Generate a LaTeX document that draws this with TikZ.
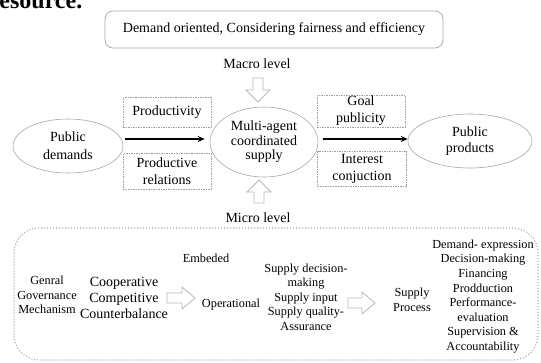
\documentclass[tikz,border=0pt]{standalone}
\usepackage{fontspec}
\setmainfont{Liberation Serif}
\usetikzlibrary{shapes.geometric,arrows.meta}

\begin{document}
\begin{tikzpicture}[x=1pt,y=-1pt,
  every node/.style={font=\fontsize{14}{16}\selectfont, inner sep=0pt},
  label/.style={align=center},
  oval/.style={label, ellipse, draw=gray!70, line width=0.6pt},
  dbox/.style={label, draw=gray!75, dash pattern=on 1.5pt off 1pt, line width=0.6pt},
  lowtext/.style={label, font=\fontsize{12.3}{14.6}\selectfont},
  flow/.style={-{Stealth[length=7pt,width=6pt]}, line width=1.1pt},
  hollow/.style={draw=gray!55, fill=white, line width=0.8pt, line join=miter},
]
\useasboundingbox (0,0) rectangle (541,362);

% tail of the preceding line of text
\begin{scope}
  \clip (0,0) rectangle (541,362);
  \node[anchor=base west, font=\fontsize{24}{24}\selectfont\bfseries] (lead) at (-11,8) {resource.};
\end{scope}

% guiding principle
\node[label, draw=gray!70, rounded corners=8pt, minimum width=338pt, minimum height=37pt,
      line width=0.7pt] (principle) at (274,29.5)
  {Demand oriented, Considering fairness and efficiency};

% macro level input
\node (macro) at (257,64) {Macro level};
\draw[hollow] (253,78) -- (263,78) -- (263,90) -- (270,90) -- (258,102)
  -- (246,90) -- (253,90) -- cycle;

% main chain
\node[oval, minimum width=110pt, minimum height=54pt,
      font=\fontsize{14}{18}\selectfont] (pd) at (68,146) {Public\\demands};
\node[oval, minimum width=108pt, minimum height=70pt,
      font=\fontsize{14}{14.6}\selectfont] (ma) at (264,142) {Multi-agent\\coordinated\\supply};
\node[oval, minimum width=124pt, minimum height=54pt] (pp) at (470,141) {Public\\products};

\coordinate (row) at (0,139);
\draw[flow, shorten <=2pt, shorten >=5pt] (pd.east |- row) -- (ma.west |- row);
\draw[flow, shorten <=5pt, shorten >=0pt] (ma.east |- row) -- (pp.west |- row);

% drivers around the chain
\node[dbox, minimum width=88pt, minimum height=30pt] (prod) at (167,112) {Productivity};
\node[dbox, minimum width=88pt, minimum height=36pt,
      font=\fontsize{14}{17}\selectfont] (rel) at (167,171) {Productive\\relations};
\node[dbox, minimum width=88pt, minimum height=32pt,
      font=\fontsize{14}{17}\selectfont] (pub) at (361,111) {Goal\\publicity};
\node[dbox, minimum width=89pt, minimum height=35pt,
      font=\fontsize{14}{17}\selectfont] (int) at (362,169) {Interest\\conjuction};

% micro level input
\draw[hollow] (254,203) -- (264,203) -- (264,192) -- (271,192) -- (259,180)
  -- (247,192) -- (254,192) -- cycle;
\node (micro) at (258,218) {Micro level};

% micro level mechanism panel
\draw[gray!70, line width=1.5pt, dash pattern=on 0pt off 3pt, line cap=round,
      rounded corners=25pt] (14,228) rectangle (538,360);

\node[lowtext] (mech) at (47,295) {Genral\\Governance\\Mechanism};
\node[label, font=\fontsize{14}{16}\selectfont] (coop) at (124,298)
  {Cooperative\\Competitive\\Counterbalance};
\draw[hollow] (167,293) -- (182,293) -- (182,287) -- (195,298) -- (182,309)
  -- (182,303) -- (167,303) -- cycle;
\node[lowtext] (embed) at (206,258) {Embeded};
\node[lowtext] (oper) at (231,305) {Operational};
\node[lowtext] (inputs) at (306,297)
  {Supply decision-\\making\\Supply input\\Supply quality-\\Assurance};
\draw[hollow] (348,298) -- (362,298) -- (362,292) -- (375,303) -- (362,314)
  -- (362,308) -- (348,308) -- cycle;
\node[lowtext] (process) at (412,300) {Supply\\Process};
\node[lowtext] (stages) at (483,296.5)
  {Demand- expression\\Decision-making\\Financing\\Prodduction\\Performance-\\evaluation\\Supervision \&\\Accountability};
\end{tikzpicture}
\end{document}
